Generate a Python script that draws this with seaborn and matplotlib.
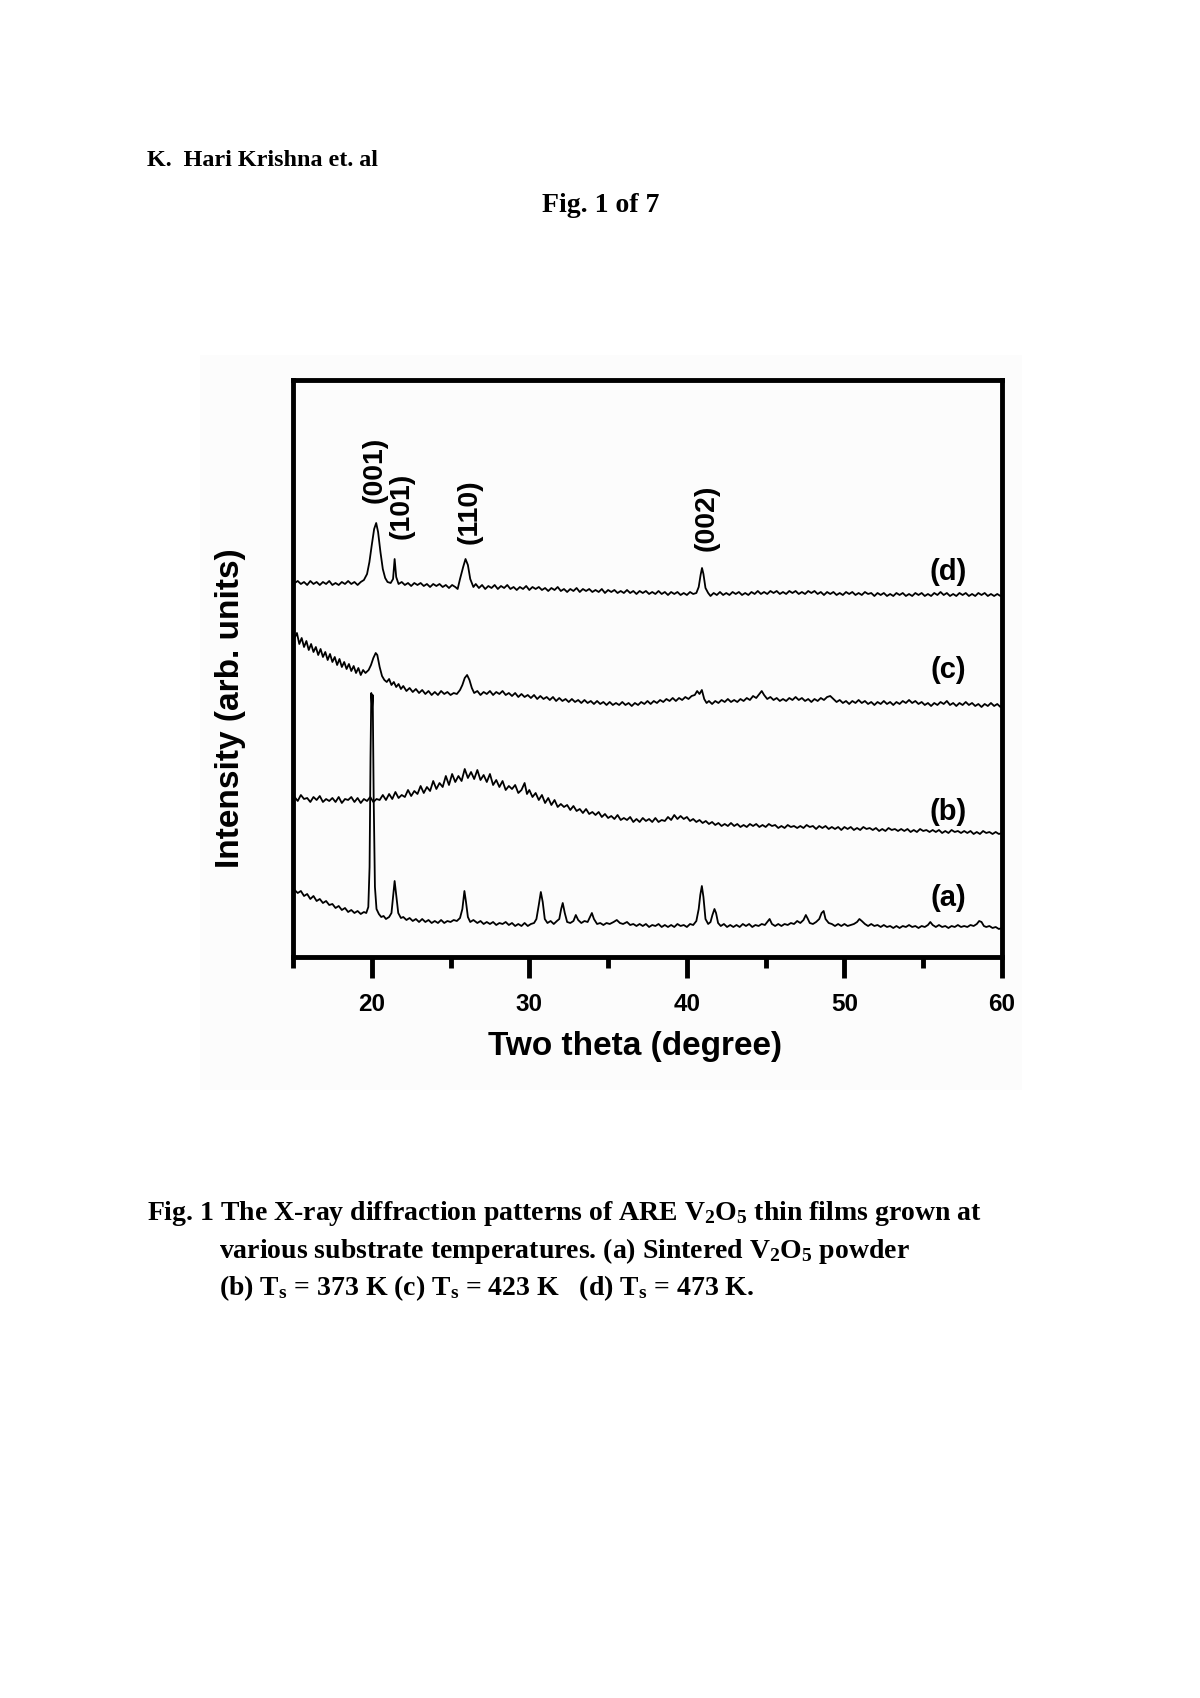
import matplotlib
matplotlib.use("Agg")
import matplotlib.pyplot as plt
import matplotlib.patches as mpatches
from matplotlib.ticker import MultipleLocator
import seaborn as sns
import pandas as pd

# ---------------- data (2-theta in degrees, intensity in arb. units) ----------------
trace_a = [
    (15.1, 67), (15.3, 64), (15.5, 66), (15.7, 61), (15.9, 63), (16.1, 58), (16.3, 61), (16.5, 56),
    (16.7, 58), (16.9, 54), (17.1, 56), (17.3, 52), (17.5, 53), (17.7, 49), (17.9, 51), (18.1, 47),
    (18.3, 49), (18.5, 45), (18.7, 47), (18.9, 44), (19.1, 46), (19.3, 43), (19.5, 45), (19.65, 44),
    (19.78, 50), (19.86, 90), (19.92, 200), (19.97, 264), (20.02, 250), (20.06, 262), (20.12, 160),
    (20.2, 70), (20.3, 48), (20.45, 43), (20.6, 40), (20.75, 41), (20.9, 38), (21.1, 40), (21.25, 44),
    (21.35, 60), (21.45, 76), (21.55, 62), (21.68, 44), (21.85, 39), (22.0, 40), (22.2, 37), (22.4, 39),
    (22.6, 36), (22.8, 38), (23.0, 35), (23.2, 38), (23.4, 35), (23.6, 37), (23.8, 34), (24.0, 36),
    (24.2, 34), (24.4, 37), (24.6, 34), (24.8, 36), (25.0, 35), (25.2, 37), (25.4, 36), (25.6, 39),
    (25.75, 48), (25.88, 66), (25.98, 55), (26.1, 40), (26.25, 35), (26.45, 37), (26.7, 34), (26.9, 36),
    (27.1, 33), (27.3, 35), (27.5, 33), (27.7, 35), (27.9, 32), (28.1, 34), (28.3, 33), (28.5, 35),
    (28.7, 32), (28.9, 34), (29.1, 31), (29.3, 33), (29.5, 31), (29.7, 34), (29.9, 31), (30.1, 33),
    (30.3, 34), (30.45, 38), (30.6, 52), (30.73, 65), (30.85, 55), (30.98, 38), (31.15, 34), (31.35, 36),
    (31.55, 33), (31.75, 36), (31.9, 38), (32.02, 48), (32.12, 54), (32.25, 44), (32.4, 35), (32.6, 34),
    (32.8, 36), (32.95, 42), (33.1, 37), (33.3, 34), (33.5, 36), (33.7, 35), (33.85, 40), (33.97, 44),
    (34.1, 38), (34.3, 33), (34.5, 34), (34.7, 32), (34.9, 34), (35.1, 33), (35.35, 35), (35.55, 37),
    (35.75, 34), (35.95, 33), (36.2, 35), (36.4, 32), (36.6, 33), (36.8, 31), (37.0, 33), (37.2, 31),
    (37.4, 33), (37.6, 30), (37.8, 32), (38.0, 31), (38.2, 33), (38.4, 30), (38.6, 32), (38.8, 30),
    (39.0, 32), (39.2, 30), (39.4, 33), (39.6, 31), (39.8, 32), (40.0, 30), (40.2, 33), (40.4, 32),
    (40.6, 36), (40.75, 48), (40.85, 62), (40.95, 71), (41.05, 60), (41.18, 38), (41.35, 33), (41.5, 35),
    (41.62, 42), (41.75, 48), (41.85, 44), (41.98, 34), (42.15, 31), (42.35, 33), (42.55, 30), (42.75, 32),
    (42.95, 30), (43.15, 32), (43.35, 30), (43.55, 33), (43.75, 31), (43.95, 33), (44.15, 30), (44.35, 32),
    (44.55, 31), (44.75, 33), (44.95, 32), (45.1, 35), (45.25, 38), (45.4, 33), (45.6, 31), (45.8, 33),
    (46.0, 31), (46.2, 33), (46.4, 32), (46.6, 34), (46.8, 33), (47.0, 36), (47.2, 34), (47.4, 37),
    (47.55, 42), (47.68, 38), (47.8, 34), (48.0, 33), (48.2, 35), (48.4, 38), (48.55, 44), (48.68, 46),
    (48.8, 38), (49.0, 34), (49.2, 33), (49.4, 31), (49.6, 33), (49.8, 31), (50.0, 33), (50.2, 31),
    (50.4, 32), (50.6, 33), (50.8, 35), (50.95, 38), (51.1, 36), (51.3, 33), (51.5, 31), (51.7, 33),
    (51.9, 31), (52.1, 32), (52.3, 30), (52.5, 32), (52.7, 30), (52.9, 31), (53.1, 29), (53.3, 31),
    (53.5, 29), (53.7, 31), (53.9, 30), (54.1, 32), (54.3, 30), (54.5, 31), (54.7, 29), (54.9, 31),
    (55.1, 30), (55.3, 32), (55.45, 35), (55.6, 32), (55.8, 30), (56.0, 32), (56.2, 30), (56.4, 31),
    (56.6, 29), (56.8, 31), (57.0, 30), (57.2, 32), (57.4, 30), (57.6, 31), (57.8, 30), (58.0, 32),
    (58.2, 31), (58.4, 33), (58.55, 36), (58.7, 35), (58.85, 31), (59.0, 30), (59.2, 31), (59.4, 29),
    (59.6, 30), (59.8, 28), (60.0, 29),
]

trace_b = [
    (15.1, 160), (15.3, 156), (15.5, 162), (15.7, 158), (15.9, 159), (16.1, 155), (16.3, 160), (16.5, 157),
    (16.7, 161), (16.9, 155), (17.1, 158), (17.3, 156), (17.5, 159), (17.7, 155), (17.9, 160), (18.1, 154),
    (18.3, 158), (18.5, 157), (18.7, 160), (18.9, 155), (19.1, 159), (19.3, 154), (19.5, 158), (19.7, 156),
    (19.9, 160), (20.1, 155), (20.3, 158), (20.5, 157), (20.7, 162), (20.9, 157), (21.1, 163), (21.3, 158),
    (21.5, 165), (21.7, 159), (21.9, 162), (22.1, 160), (22.3, 167), (22.5, 161), (22.7, 166), (22.9, 163),
    (23.1, 171), (23.3, 164), (23.5, 170), (23.7, 166), (23.9, 176), (24.1, 168), (24.3, 174), (24.5, 170),
    (24.7, 181), (24.9, 172), (25.1, 183), (25.3, 175), (25.5, 181), (25.7, 176), (25.9, 188), (26.1, 179),
    (26.3, 185), (26.5, 178), (26.7, 187), (26.9, 177), (27.1, 182), (27.3, 175), (27.5, 183), (27.7, 172),
    (27.9, 177), (28.1, 170), (28.3, 176), (28.5, 167), (28.7, 171), (28.9, 168), (29.1, 172), (29.3, 164),
    (29.5, 167), (29.7, 174), (29.85, 163), (30.0, 167), (30.2, 160), (30.4, 164), (30.6, 157), (30.8, 162),
    (31.0, 154), (31.2, 159), (31.4, 152), (31.6, 157), (31.8, 150), (32.0, 153), (32.2, 150), (32.4, 152),
    (32.6, 147), (32.8, 151), (33.0, 146), (33.2, 148), (33.4, 144), (33.6, 148), (33.8, 143), (34.0, 145),
    (34.2, 142), (34.4, 145), (34.6, 140), (34.8, 143), (35.0, 139), (35.2, 141), (35.4, 138), (35.6, 142),
    (35.8, 137), (36.0, 139), (36.2, 137), (36.4, 140), (36.6, 135), (36.8, 138), (37.0, 135), (37.2, 139),
    (37.4, 136), (37.6, 138), (37.8, 135), (38.0, 139), (38.2, 135), (38.4, 137), (38.6, 136), (38.8, 140),
    (39.0, 137), (39.2, 142), (39.4, 138), (39.6, 141), (39.8, 138), (40.0, 140), (40.2, 136), (40.4, 138),
    (40.6, 135), (40.8, 137), (41.0, 134), (41.2, 136), (41.4, 133), (41.6, 135), (41.8, 132), (42.0, 134),
    (42.2, 131), (42.4, 133), (42.6, 131), (42.8, 134), (43.0, 131), (43.2, 133), (43.4, 130), (43.6, 132),
    (43.8, 130), (44.0, 133), (44.2, 131), (44.4, 133), (44.6, 130), (44.8, 132), (45.0, 130), (45.2, 133),
    (45.4, 131), (45.6, 132), (45.8, 129), (46.0, 131), (46.2, 129), (46.4, 132), (46.6, 130), (46.8, 131),
    (47.0, 129), (47.2, 131), (47.4, 129), (47.6, 132), (47.8, 130), (48.0, 131), (48.2, 128), (48.4, 131),
    (48.6, 129), (48.8, 131), (49.0, 128), (49.2, 130), (49.4, 128), (49.6, 130), (49.8, 127), (50.0, 130),
    (50.2, 128), (50.4, 130), (50.6, 127), (50.8, 129), (51.0, 127), (51.2, 130), (51.4, 128), (51.6, 129),
    (51.8, 127), (52.0, 129), (52.2, 126), (52.4, 128), (52.6, 126), (52.8, 129), (53.0, 127), (53.2, 128),
    (53.4, 126), (53.6, 128), (53.8, 126), (54.0, 128), (54.2, 125), (54.4, 127), (54.6, 125), (54.8, 128),
    (55.0, 126), (55.2, 127), (55.4, 125), (55.6, 127), (55.8, 125), (56.0, 127), (56.2, 124), (56.4, 126),
    (56.6, 124), (56.8, 127), (57.0, 125), (57.2, 126), (57.4, 124), (57.6, 126), (57.8, 124), (58.0, 126),
    (58.2, 123), (58.4, 125), (58.6, 123), (58.8, 126), (59.0, 124), (59.2, 125), (59.4, 123), (59.6, 125),
    (59.8, 123), (60.0, 124),
]

trace_c = [
    (15.1, 319), (15.25, 324), (15.4, 313), (15.55, 319), (15.7, 310), (15.85, 316), (16.0, 307), (16.15, 313),
    (16.3, 305), (16.45, 310), (16.6, 302), (16.75, 308), (16.9, 300), (17.05, 305), (17.2, 297), (17.35, 303),
    (17.5, 295), (17.65, 300), (17.8, 292), (17.95, 298), (18.1, 290), (18.25, 295), (18.4, 288), (18.55, 293),
    (18.7, 286), (18.85, 291), (19.0, 284), (19.15, 289), (19.3, 282), (19.45, 287), (19.6, 284), (19.8, 287),
    (19.95, 292), (20.1, 299), (20.25, 304), (20.35, 302), (20.5, 290), (20.65, 281), (20.8, 277), (20.95, 275),
    (21.1, 278), (21.25, 272), (21.4, 275), (21.55, 270), (21.7, 273), (21.85, 268), (22.0, 271), (22.2, 266),
    (22.4, 269), (22.6, 265), (22.8, 268), (23.0, 264), (23.2, 267), (23.4, 263), (23.6, 266), (23.8, 262),
    (24.0, 265), (24.2, 262), (24.4, 266), (24.6, 263), (24.8, 265), (25.0, 262), (25.2, 264), (25.4, 263),
    (25.6, 267), (25.75, 272), (25.9, 279), (26.05, 282), (26.2, 277), (26.35, 269), (26.5, 264), (26.7, 266),
    (26.9, 262), (27.1, 265), (27.3, 263), (27.5, 266), (27.7, 262), (27.9, 265), (28.1, 263), (28.3, 266),
    (28.5, 262), (28.7, 264), (28.9, 261), (29.1, 264), (29.3, 260), (29.5, 263), (29.7, 260), (29.9, 262),
    (30.1, 259), (30.3, 262), (30.5, 258), (30.7, 261), (30.9, 258), (31.1, 260), (31.3, 257), (31.5, 260),
    (31.7, 256), (31.9, 259), (32.1, 256), (32.3, 258), (32.5, 255), (32.7, 258), (32.9, 255), (33.1, 257),
    (33.3, 254), (33.5, 257), (33.7, 254), (33.9, 256), (34.1, 253), (34.3, 256), (34.5, 253), (34.7, 255),
    (34.9, 252), (35.1, 255), (35.3, 252), (35.5, 254), (35.7, 252), (35.9, 255), (36.1, 252), (36.3, 254),
    (36.5, 251), (36.7, 254), (36.9, 252), (37.1, 255), (37.3, 253), (37.5, 256), (37.7, 253), (37.9, 256),
    (38.1, 254), (38.3, 257), (38.5, 255), (38.7, 258), (38.9, 256), (39.1, 259), (39.3, 256), (39.5, 259),
    (39.7, 257), (39.9, 260), (40.1, 258), (40.3, 261), (40.5, 262), (40.65, 266), (40.8, 263), (40.95, 267),
    (41.1, 258), (41.25, 254), (41.4, 256), (41.6, 253), (41.8, 256), (42.0, 254), (42.2, 257), (42.4, 255),
    (42.6, 258), (42.8, 255), (43.0, 257), (43.2, 255), (43.4, 258), (43.6, 256), (43.8, 259), (44.0, 257),
    (44.2, 261), (44.4, 259), (44.6, 263), (44.75, 266), (44.9, 262), (45.1, 258), (45.3, 260), (45.5, 257),
    (45.7, 259), (45.9, 256), (46.1, 258), (46.3, 256), (46.5, 259), (46.7, 257), (46.9, 260), (47.1, 257),
    (47.3, 259), (47.5, 256), (47.7, 258), (47.9, 255), (48.1, 258), (48.3, 256), (48.5, 259), (48.7, 257),
    (48.9, 260), (49.1, 261), (49.3, 258), (49.5, 255), (49.7, 257), (49.9, 254), (50.1, 256), (50.3, 253),
    (50.5, 256), (50.7, 254), (50.9, 257), (51.1, 254), (51.3, 256), (51.5, 253), (51.7, 255), (51.9, 252),
    (52.1, 255), (52.3, 253), (52.5, 256), (52.7, 253), (52.9, 255), (53.1, 252), (53.3, 255), (53.5, 253),
    (53.7, 256), (53.9, 254), (54.1, 257), (54.3, 254), (54.5, 256), (54.7, 253), (54.9, 255), (55.1, 252),
    (55.3, 254), (55.5, 251), (55.7, 254), (55.9, 252), (56.1, 255), (56.3, 253), (56.5, 256), (56.7, 252),
    (56.9, 254), (57.1, 251), (57.3, 254), (57.5, 252), (57.7, 255), (57.9, 252), (58.1, 254), (58.3, 251),
    (58.5, 253), (58.7, 250), (58.9, 253), (59.1, 251), (59.3, 254), (59.5, 251), (59.7, 253), (59.9, 250),
    (60.0, 252),
]

trace_d = [
    (15.1, 374), (15.3, 376), (15.5, 373), (15.7, 375), (15.9, 372), (16.1, 376), (16.3, 373), (16.5, 375),
    (16.7, 372), (16.9, 375), (17.1, 373), (17.3, 376), (17.5, 372), (17.7, 374), (17.9, 372), (18.1, 375),
    (18.3, 373), (18.5, 376), (18.7, 373), (18.9, 375), (19.1, 372), (19.3, 375), (19.5, 377), (19.7, 383),
    (19.85, 395), (20.0, 412), (20.15, 428), (20.28, 434), (20.4, 425), (20.55, 405), (20.7, 388), (20.85, 379),
    (21.0, 375), (21.2, 374), (21.35, 378), (21.45, 398), (21.55, 380), (21.7, 373), (21.9, 375), (22.1, 372),
    (22.3, 374), (22.5, 371), (22.7, 374), (22.9, 372), (23.1, 374), (23.3, 371), (23.5, 373), (23.7, 370),
    (23.9, 373), (24.1, 371), (24.3, 373), (24.5, 370), (24.7, 372), (24.9, 369), (25.1, 372), (25.3, 370),
    (25.45, 368), (25.6, 378), (25.8, 390), (25.95, 398), (26.1, 392), (26.25, 378), (26.45, 370), (26.6, 373),
    (26.8, 369), (27.0, 372), (27.2, 368), (27.4, 371), (27.6, 369), (27.8, 372), (28.0, 368), (28.2, 371),
    (28.4, 369), (28.6, 372), (28.8, 368), (29.0, 370), (29.2, 367), (29.4, 370), (29.6, 368), (29.8, 371),
    (30.0, 367), (30.2, 370), (30.4, 368), (30.6, 370), (30.8, 367), (31.0, 369), (31.2, 366), (31.4, 369),
    (31.6, 367), (31.8, 370), (32.0, 366), (32.2, 368), (32.4, 365), (32.6, 368), (32.8, 366), (33.0, 369),
    (33.2, 365), (33.4, 368), (33.6, 366), (33.8, 368), (34.0, 365), (34.2, 367), (34.4, 365), (34.6, 368),
    (34.8, 364), (35.0, 367), (35.2, 365), (35.4, 367), (35.6, 364), (35.8, 366), (36.0, 364), (36.2, 367),
    (36.4, 364), (36.6, 366), (36.8, 363), (37.0, 366), (37.2, 364), (37.4, 366), (37.6, 363), (37.8, 365),
    (38.0, 363), (38.2, 366), (38.4, 363), (38.6, 365), (38.8, 362), (39.0, 365), (39.2, 363), (39.4, 365),
    (39.6, 362), (39.8, 364), (40.0, 362), (40.2, 365), (40.4, 363), (40.6, 364), (40.75, 370), (40.87, 382),
    (40.96, 389), (41.05, 383), (41.18, 369), (41.35, 364), (41.5, 361), (41.7, 364), (41.9, 362), (42.1, 365),
    (42.3, 362), (42.5, 364), (42.7, 362), (42.9, 365), (43.1, 363), (43.3, 365), (43.5, 362), (43.7, 364),
    (43.9, 362), (44.1, 365), (44.3, 363), (44.5, 366), (44.7, 363), (44.9, 365), (45.1, 363), (45.3, 366),
    (45.5, 364), (45.7, 366), (45.9, 363), (46.1, 365), (46.3, 363), (46.5, 366), (46.7, 364), (46.9, 366),
    (47.1, 363), (47.3, 365), (47.5, 363), (47.7, 366), (47.9, 364), (48.1, 366), (48.3, 363), (48.5, 365),
    (48.7, 362), (48.9, 365), (49.1, 363), (49.3, 365), (49.5, 362), (49.7, 364), (49.9, 362), (50.1, 365),
    (50.3, 363), (50.5, 365), (50.7, 362), (50.9, 364), (51.1, 362), (51.3, 365), (51.5, 363), (51.7, 364),
    (51.9, 361), (52.1, 364), (52.3, 362), (52.5, 364), (52.7, 361), (52.9, 363), (53.1, 361), (53.3, 364),
    (53.5, 362), (53.7, 364), (53.9, 361), (54.1, 363), (54.3, 361), (54.5, 364), (54.7, 362), (54.9, 364),
    (55.1, 361), (55.3, 363), (55.5, 361), (55.7, 364), (55.9, 362), (56.1, 365), (56.3, 362), (56.5, 364),
    (56.7, 361), (56.9, 363), (57.1, 361), (57.3, 364), (57.5, 362), (57.7, 364), (57.9, 361), (58.1, 363),
    (58.3, 361), (58.5, 364), (58.7, 362), (58.9, 364), (59.1, 361), (59.3, 363), (59.5, 361), (59.7, 363),
    (59.9, 361), (60.0, 362),
]

trace_labels = ["(a)", "(b)", "(c)", "(d)"]
trace_label_pos = [(56.6, 59), (56.6, 145), (56.6, 287), (56.6, 385)]

peak_labels = ["(001)", "(101)", "(110)", "(002)"]
peak_label_pos = [(20.17, 487), (21.9, 451), (26.2, 445), (41.23, 439)]

x_major_ticks = [20, 30, 40, 50, 60]

# ---------------- style ----------------
sns.set_style("ticks")
plt.rcParams["font.family"] = ["Liberation Sans", "DejaVu Sans"]
plt.rcParams["font.weight"] = "bold"
plt.rcParams["text.color"] = "black"
plt.rcParams["axes.labelcolor"] = "black"
plt.rcParams["xtick.color"] = "black"
plt.rcParams["ytick.color"] = "black"
plt.rcParams["mathtext.fontset"] = "custom"
plt.rcParams["mathtext.rm"] = "Liberation Serif:bold"
plt.rcParams["mathtext.it"] = "Liberation Serif:bold"
plt.rcParams["mathtext.bf"] = "Liberation Serif:bold"

W, H = 1200, 1698
fig = plt.figure(figsize=(W / 100, H / 100), dpi=100)
fig.patch.set_facecolor("white")

# faint grey backdrop behind the plot (as in the scanned page)
fig.patches.append(mpatches.Rectangle((200 / W, 1 - 1090 / H), 822 / W, 735 / H,
                                      transform=fig.transFigure, facecolor="#fcfcfc",
                                      edgecolor="none", zorder=-5))

ax_l, ax_r, ax_t, ax_b = 293, 1002, 380, 957
ax = fig.add_axes([ax_l / W, 1 - ax_b / H, (ax_r - ax_l) / W, (ax_b - ax_t) / H])
ax.set_facecolor("none")
ax.set_zorder(2)

for tr in [trace_a, trace_b, trace_c, trace_d]:
    df = pd.DataFrame(tr, columns=["theta", "intensity"])
    sns.lineplot(data=df, x="theta", y="intensity", ax=ax, color="black",
                 linewidth=1.3, estimator=None, sort=False)

ax.set_xlim(15, 60)
ax.set_ylim(0, ax_b - ax_t)
ax.set_yticks([])
ax.xaxis.set_major_locator(MultipleLocator(10))
ax.xaxis.set_minor_locator(MultipleLocator(5))
ax.set_xticks(x_major_ticks)
ax.tick_params(axis="x", which="major", direction="out", length=15, width=3.5,
               labelsize=17.5, pad=11, colors="black")
ax.tick_params(axis="x", which="minor", direction="out", length=8, width=3.5, colors="black")
for lab in ax.get_xticklabels():
    lab.set_fontweight("bold")
for sp in ax.spines.values():
    sp.set_visible(True)
    sp.set_linewidth(3.5)
    sp.set_color("black")

ax.set_xlabel("Two theta (degree)", fontsize=24, fontweight="bold", va="center", color="black")
ax.xaxis.set_label_coords(0.482, (ax_b - 1047) / (ax_b - ax_t))
ax.set_ylabel("Intensity (arb. units)", fontsize=24, fontweight="bold", va="center", color="black")
ax.yaxis.set_label_coords((230 - ax_l) / (ax_r - ax_l), (ax_b - 708) / (ax_b - ax_t))

for txt, (px, py) in zip(trace_labels, trace_label_pos):
    ax.text(px, py, txt, fontsize=21, fontweight="bold", ha="center", va="center", color="black")
for txt, (px, py) in zip(peak_labels, peak_label_pos):
    ax.text(px, py, txt, fontsize=20.5, fontweight="bold", ha="center", va="center",
            rotation=90, color="black")

# ---------------- page texts ----------------
serif = ["Liberation Serif", "DejaVu Serif"]
fig.text(147 / W, 1 - 161 / H, "K.  Hari Krishna et. al", family=serif, fontsize=17.4,
         fontweight="bold", ha="left", va="center", color="black")
fig.text(601 / W, 1 - 206 / H, "Fig. 1 of 7", family=serif, fontsize=20,
         fontweight="bold", ha="center", va="center", color="black")

cap_lines = [
    (147, 1213, r"Fig. 1 The X-ray diffraction patterns of ARE V$_2$O$_5$ thin films grown at"),
    (219, 1251, r"various substrate temperatures. (a) Sintered V$_2$O$_5$ powder"),
    (219, 1288, r"(b) T$_s$ = 373 K (c) T$_s$ = 423 K   (d) T$_s$ = 473 K."),
]
for cx, cy, ctext in cap_lines:
    fig.text(cx / W, 1 - cy / H, ctext, family=serif, fontsize=20, fontweight="bold",
             ha="left", va="center", color="black")

fig.savefig("out.png", dpi=100, facecolor="white")
